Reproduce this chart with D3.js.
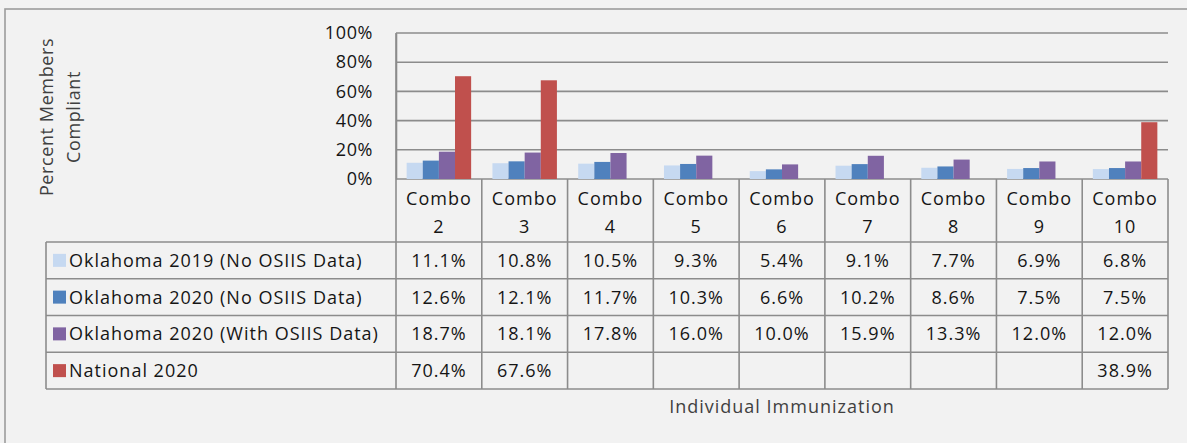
<!DOCTYPE html>
<html>
<head>
<meta charset="utf-8">
<script src="https://cdn.jsdelivr.net/npm/d3@7"></script>
<style>
  html, body { margin: 0; padding: 0; background: #f2f2f2; }
  svg { display: block; }
  text { font-family: "Open Sans", sans-serif; }
</style>
</head>
<body>
<script>
// ---- Data ----
const categories = ["Combo 2", "Combo 3", "Combo 4", "Combo 5", "Combo 6", "Combo 7", "Combo 8", "Combo 9", "Combo 10"];
const seriesNames = [
  "Oklahoma 2019 (No OSIIS Data)",
  "Oklahoma 2020 (No OSIIS Data)",
  "Oklahoma 2020 (With OSIIS Data)",
  "National 2020"
];
const ok2019NoOsiis = [11.1, 10.8, 10.5, 9.3, 5.4, 9.1, 7.7, 6.9, 6.8];
const ok2020NoOsiis = [12.6, 12.1, 11.7, 10.3, 6.6, 10.2, 8.6, 7.5, 7.5];
const ok2020WithOsiis = [18.7, 18.1, 17.8, 16.0, 10.0, 15.9, 13.3, 12.0, 12.0];
const national2020 = [70.4, 67.6, null, null, null, null, null, null, 38.9];
const seriesColors = ["#c6d9f1", "#4f81bd", "#8064a2", "#c0504d"];
const yTicks = [0, 20, 40, 60, 80, 100];
const yTitle = ["Percent Members", "Compliant"];
const xTitle = "Individual Immunization";

const seriesValues = [ok2019NoOsiis, ok2020NoOsiis, ok2020WithOsiis, national2020];

// ---- Layout ----
const W = 1187, H = 443;
const plotL = 396, plotR = 1168, plotT = 33, plotB = 179;
const headerB = 242;
const legendL = 46;
const rowH = 36.75;
const tableB = headerB + rowH * seriesNames.length;
const FS = 18;

const svg = d3.select("body").append("svg").attr("width", W).attr("height", H);
svg.append("rect").attr("width", W).attr("height", H).attr("fill", "#f2f2f2");
svg.append("rect").attr("x", 5).attr("y", 9).attr("width", W + 20).attr("height", H + 20)
  .attr("fill", "none").attr("stroke", "#9c9c9c").attr("stroke-width", 1.6);

const x0 = d3.scaleBand().domain(categories).range([plotL, plotR]).paddingInner(0).paddingOuter(0);
const x1 = d3.scaleBand().domain(seriesNames).range([0, x0.bandwidth()]).paddingInner(0).paddingOuter(0.66);
const y = d3.scaleLinear().domain([0, 100]).range([plotB, plotT]);

const lineColor = "#8c8c8c";
const textColor = "#151515";
const LS = "1px";

// gridlines
svg.append("g").selectAll("line").data(yTicks).join("line")
  .attr("x1", plotL).attr("x2", plotR)
  .attr("y1", d => y(d)).attr("y2", d => y(d))
  .attr("stroke", lineColor).attr("stroke-width", 1.6);

// y axis labels via d3 axis
const yAxis = svg.append("g").attr("transform", `translate(${plotL},0)`)
  .call(d3.axisLeft(y).tickValues(yTicks).tickFormat(d => d + "%").tickSize(0).tickPadding(23));
yAxis.select(".domain").attr("stroke", lineColor).attr("stroke-width", 1.6);
yAxis.selectAll("text").attr("font-size", FS).attr("fill", textColor)
  .attr("font-family", "Open Sans, sans-serif").style("letter-spacing", "0.6px");

// bars
const groups = svg.append("g").selectAll("g").data(categories).join("g")
  .attr("transform", d => `translate(${x0(d)},0)`);
groups.selectAll("rect").data((c, i) => seriesNames.map((s, j) => ({ s, v: seriesValues[j][i], color: seriesColors[j] })))
  .join("rect")
  .filter(d => d.v !== null)
  .attr("x", d => x1(d.s)).attr("width", x1.bandwidth())
  .attr("y", d => y(d.v)).attr("height", d => y(0) - y(d.v))
  .attr("fill", d => d.color);

// table lines
const tl = svg.append("g").attr("stroke", lineColor).attr("stroke-width", 1.6);
const colEdges = categories.map(c => x0(c)).concat([plotR]);
tl.selectAll("line.v").data(colEdges).join("line").attr("class", "v")
  .attr("x1", d => d).attr("x2", d => d)
  .attr("y1", (d, i) => i === 0 ? plotT : plotB).attr("y2", tableB);
const rowEdges = d3.range(seriesNames.length + 1).map(i => headerB + i * rowH);
tl.selectAll("line.h").data(rowEdges).join("line").attr("class", "h")
  .attr("x1", legendL).attr("x2", plotR)
  .attr("y1", d => d).attr("y2", d => d);
tl.append("line").attr("x1", legendL).attr("x2", legendL).attr("y1", headerB).attr("y2", tableB);

// header category labels
const hdr = svg.append("g").selectAll("text").data(categories).join("text")
  .attr("text-anchor", "middle").attr("font-size", FS).attr("fill", textColor)
  .style("letter-spacing", LS);
hdr.each(function(d) {
  const parts = d.split(" ");
  const t = d3.select(this);
  const cx = x0(d) + x0.bandwidth() / 2;
  t.append("tspan").attr("x", cx).attr("y", 205).text(parts[0]);
  t.append("tspan").attr("x", cx).attr("y", 233).text(parts[1]);
});

// legend rows
const rows = svg.append("g").selectAll("g").data(seriesNames).join("g")
  .attr("transform", (d, i) => `translate(0,${headerB + i * rowH + rowH / 2})`);
rows.append("rect").attr("x", 53).attr("y", -6.5).attr("width", 13).attr("height", 13)
  .attr("fill", (d, i) => seriesColors[i]);
rows.append("text").attr("x", 69).attr("y", 6.5).attr("font-size", FS).attr("fill", textColor)
  .style("letter-spacing", LS).text(d => d);
rows.each(function(s, j) {
  d3.select(this).selectAll("text.val").data(seriesValues[j]).join("text").attr("class", "val")
    .attr("x", (v, i) => x0(categories[i]) + x0.bandwidth() / 2)
    .attr("y", 6.5).attr("text-anchor", "middle").attr("font-size", FS).attr("fill", textColor)
    .style("letter-spacing", LS)
    .text(v => v === null ? "" : v.toFixed(1) + "%");
});

// axis titles
svg.append("text").attr("x", (plotL + plotR) / 2).attr("y", 413)
  .attr("text-anchor", "middle").attr("font-size", FS).attr("fill", "#404040")
  .style("letter-spacing", LS).text(xTitle);

const yt = svg.append("text").attr("transform", "translate(0,117) rotate(-90)")
  .attr("text-anchor", "middle").attr("font-size", FS).attr("fill", "#404040")
  .style("letter-spacing", "0.6px");
yt.selectAll("tspan").data(yTitle).join("tspan")
  .attr("x", 0).attr("y", (d, i) => 53 + i * 27).text(d => d);
</script>
</body>
</html>
